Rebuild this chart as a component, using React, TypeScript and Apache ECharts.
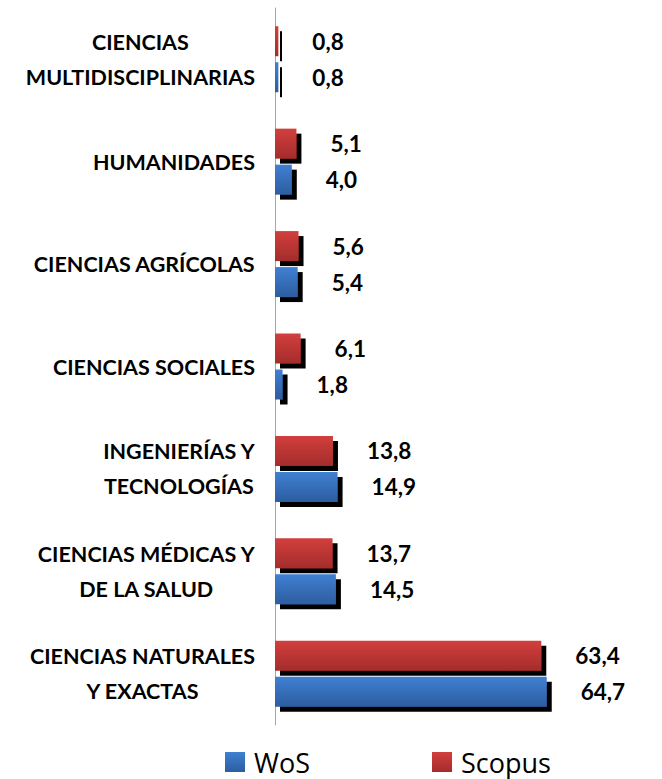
import React, { useEffect, useRef } from "react";
import * as echarts from "echarts";

const categories = [
  "CIENCIAS NATURALES\nY EXACTAS",
  "CIENCIAS MÉDICAS Y\nDE LA SALUD",
  "INGENIERÍAS Y\nTECNOLOGÍAS",
  "CIENCIAS SOCIALES",
  "CIENCIAS AGRÍCOLAS",
  "HUMANIDADES",
  "CIENCIAS\nMULTIDISCIPLINARIAS",
];
const wosValues = [64.7, 14.5, 14.9, 1.8, 5.4, 4.0, 0.8];
const scopusValues = [63.4, 13.7, 13.8, 6.1, 5.6, 5.1, 0.8];
const seriesNames = ["WoS", "Scopus"];

const blueGrad = new echarts.graphic.LinearGradient(0, 0, 0, 1, [
  { offset: 0, color: "#3f80d2" },
  { offset: 1, color: "#2d5d9f" },
]);
const redGrad = new echarts.graphic.LinearGradient(0, 0, 0, 1, [
  { offset: 0, color: "#d23f3d" },
  { offset: 1, color: "#a42c2b" },
]);

const fmt = (v: number) => v.toFixed(1).replace(".", ",");

export default function App() {
  const ref = useRef<HTMLDivElement>(null);
  useEffect(() => {
    document.body.style.margin = "0";
    const chart = echarts.init(ref.current!, null, { renderer: "svg" });
    const labelStyle = {
      show: true,
      position: "right" as const,
      distance: 34,
      formatter: (p: any) => fmt(p.value),
      fontFamily: "Lato",
      fontWeight: "bold" as const,
      fontSize: 22.5,
      color: "#000",
    };
    const itemShadow = {
      shadowColor: "#000",
      shadowBlur: 0,
      shadowOffsetX: 5,
      shadowOffsetY: 5,
    };
    chart.setOption({
      animation: false,
      grid: { left: 275, right: 51, top: 8, bottom: 54 },
      legend: {
        left: 225,
        top: 747,
        padding: 0,
        itemWidth: 20,
        itemHeight: 20,
        itemGap: 122,
        icon: "rect",
        textStyle: { fontFamily: "Open Sans", fontSize: 27, lineHeight: 30, color: "#000", padding: [0, 0, 0, 4] },
        data: seriesNames,
      },
      xAxis: {
        type: "value",
        min: 0,
        max: 80,
        show: false,
      },
      yAxis: {
        type: "category",
        data: categories,
        axisLine: { show: true, lineStyle: { color: "#a6a6a6", width: 1 } },
        axisTick: { show: false },
        axisLabel: {
          margin: 20,
          align: "right",
          formatter: (v: string) =>
            v
              .split("\n")
              .map((l) => `{c|${l}}`)
              .join("\n"),
          rich: {
            c: {
              align: "center",
              fontFamily: "Lato",
              fontWeight: "bold",
              fontSize: 21.5,
              lineHeight: 35,
              color: "#000",
            },
          },
        },
      },
      series: [
        {
          name: seriesNames[1],
          type: "bar",
          data: scopusValues,
          barWidth: 30,
          barGap: "20%",
          itemStyle: { color: redGrad, ...itemShadow },
          label: labelStyle,
        },
        {
          name: seriesNames[0],
          type: "bar",
          data: wosValues,
          barWidth: 30,
          barGap: "20%",
          itemStyle: { color: blueGrad, ...itemShadow },
          label: labelStyle,
        },
      ],
    });
    return () => chart.dispose();
  }, []);
  return <div ref={ref} style={{ width: 662, height: 779 }} />;
}
